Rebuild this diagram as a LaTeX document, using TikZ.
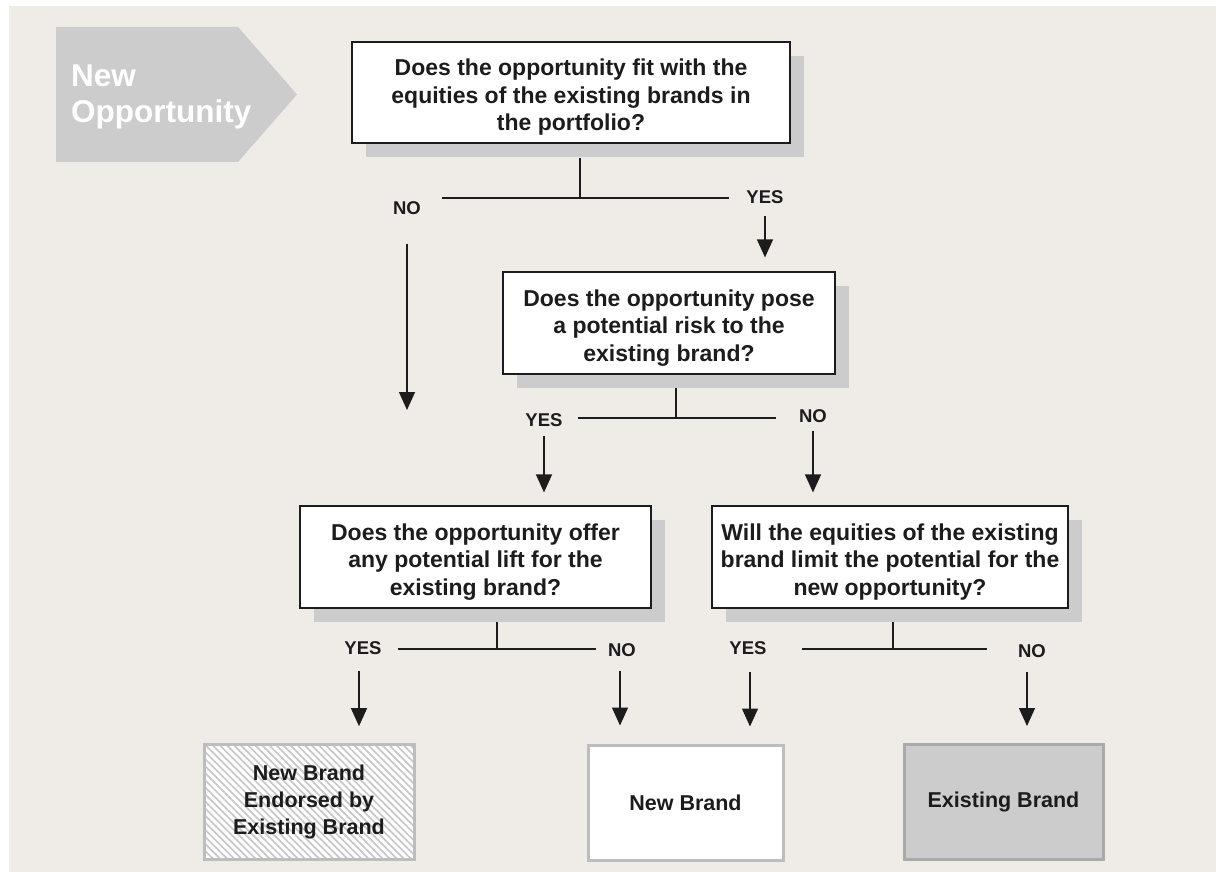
\documentclass[tikz,border=0pt]{standalone}
\usepackage{fontspec}
\setmainfont{Liberation Sans}
\usetikzlibrary{arrows.meta,shadows,patterns.meta}
\definecolor{bgbeige}{RGB}{239,235,231}
\definecolor{shadowgray}{RGB}{204,204,204}
\definecolor{leafedge}{RGB}{189,189,189}
\definecolor{hatchgray}{RGB}{200,200,200}
\definecolor{inkgray}{RGB}{28,28,28}
\newcommand{\qstrut}{\rule{0pt}{26pt}}

\begin{document}
\begin{tikzpicture}[x=1pt, y=-1pt,
  question/.style={draw=inkgray, line width=1.2pt, fill=white, align=center, inner sep=0pt,
    text=inkgray, font=\bfseries\fontsize{23}{27.5}\selectfont,
    drop shadow={shadow xshift=14pt, shadow yshift=-14pt, fill=shadowgray, opacity=1}},
  answer/.style={text=inkgray, font=\bfseries\fontsize{18.5}{20}\selectfont, inner sep=0pt},
  leaf/.style={draw=leafedge, line width=3pt, align=center, inner sep=0pt, text=inkgray,
    font=\bfseries\fontsize{21.5}{27}\selectfont, minimum height=115pt},
  branch/.style={inkgray, line width=1.2pt},
  flow/.style={inkgray, line width=1.4pt, -{Triangle[width=16pt,length=18pt]}}]
  \useasboundingbox (0,0) rectangle (1216,872);
  \fill[white] (0,0) rectangle (1216,872);
  \fill[bgbeige] (9,6) rectangle (1216,872);

  % start arrow
  \fill[shadowgray] (56,27) -- (238,27) -- (297,94.5) -- (238,162) -- (56,162) -- cycle;
  \node[anchor=west, align=left, text=white, inner sep=0pt,
    font=\bfseries\fontsize{31.5}{36}\selectfont] (start) at (71,97) {New\\Opportunity};

  % questions
  \node[question, minimum width=438pt, minimum height=101pt] (fit) at (571,92.5)
    {\qstrut Does the opportunity fit with the\\equities of the existing brands in\\the portfolio?};
  \node[question, minimum width=332pt, minimum height=102pt] (risk) at (669,323)
    {\qstrut Does the opportunity pose\\a potential risk to the\\existing brand?};
  \node[question, minimum width=351pt, minimum height=102pt] (lift) at (475.5,557)
    {\qstrut Does the opportunity offer\\any potential lift for the\\existing brand?};
  \node[question, minimum width=356pt, minimum height=102pt] (limit) at (890,557)
    {\qstrut Will the equities of the existing\\brand limit the potential for the\\new opportunity?};

  % outcomes
  \node[leaf, minimum width=210pt, preaction={fill=white},
    pattern={Lines[angle=-45,distance=5pt,line width=1.7pt]}, pattern color=hatchgray]
    (endorsed) at (309,801.5) {New Brand\\Endorsed by\\Existing Brand};
  \node[leaf, minimum width=195pt, fill=white] (newbrand) at (685.5,802.5) {New Brand};
  \node[leaf, minimum width=199pt, fill=shadowgray, draw=leafedge!90!black] (existing) at (1003.5,802) {Existing Brand};

  % first fork
  \coordinate (fitstem) at (580,158);
  \coordinate (fitfork) at (580,198);
  \coordinate (fitL) at (442,198);
  \coordinate (fitR) at (729,198);
  \draw[branch] (fitstem) -- (fitfork) (fitL) -- (fitR);
  \node[answer] (fitno) at (407,208) {NO};
  \node[answer] (fityes) at (765,197) {YES};
  \coordinate (fitnoend) at (407,410);
  \draw[flow, shorten <=29pt] (fitno.south) -- (fitnoend);
  \draw[flow, shorten <=12pt, shorten >=14pt] (fityes.south) -- (fityes.south |- risk.north);

  % second fork
  \coordinate (riskstem) at (676,388);
  \coordinate (riskfork) at (676,418);
  \coordinate (riskL) at (578,418);
  \coordinate (riskR) at (776,418);
  \draw[branch] (riskstem) -- (riskfork) (riskL) -- (riskR);
  \node[answer] (riskyes) at (544,420) {YES};
  \node[answer] (riskno) at (813,416) {NO};
  \draw[flow, shorten <=9pt, shorten >=13pt] (riskyes.south) -- (riskyes.south |- lift.north);
  \draw[flow, shorten <=8pt, shorten >=13pt] (riskno.south) -- (riskno.south |- limit.north);

  % third forks
  \coordinate (liftstem) at (497,622);
  \coordinate (liftfork) at (497,649);
  \coordinate (liftL) at (398,649);
  \coordinate (liftR) at (596,649);
  \draw[branch] (liftstem) -- (liftfork) (liftL) -- (liftR);
  \node[answer] (liftyes) at (363,648) {YES};
  \node[answer] (liftno) at (622,650) {NO};
  \draw[flow, shorten <=16pt, shorten >=17pt] ([xshift=-4pt]liftyes.south) -- ([xshift=-4pt]liftyes.south |- endorsed.north);
  \draw[flow, shorten <=14pt, shorten >=18pt] ([xshift=-2pt]liftno.south) -- ([xshift=-2pt]liftno.south |- newbrand.north);

  \coordinate (limitstem) at (893,622);
  \coordinate (limitfork) at (893,649);
  \coordinate (limitL) at (802,649);
  \coordinate (limitR) at (987,649);
  \draw[branch] (limitstem) -- (limitfork) (limitL) -- (limitR);
  \node[answer] (limityes) at (748,648) {YES};
  \node[answer] (limitno) at (1032,651) {NO};
  \draw[flow, shorten <=17pt, shorten >=17pt] ([xshift=2pt]limityes.south) -- ([xshift=2pt]limityes.south |- newbrand.north);
  \draw[flow, shorten <=14pt, shorten >=17pt] ([xshift=-5pt]limitno.south) -- ([xshift=-5pt]limitno.south |- existing.north);
\end{tikzpicture}
\end{document}
